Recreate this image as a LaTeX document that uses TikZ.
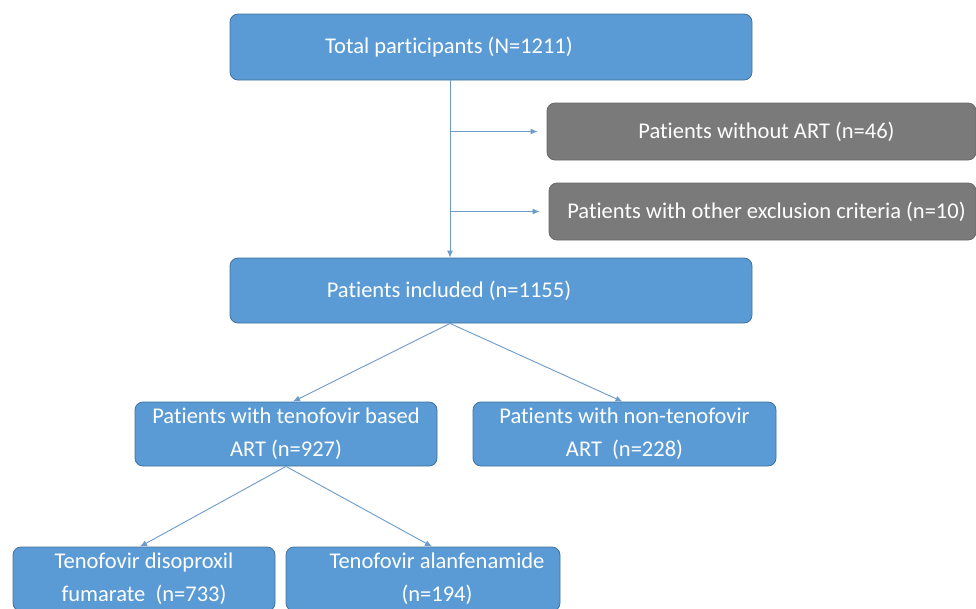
\documentclass[tikz,border=0pt]{standalone}
\usepackage{fontspec}
\setmainfont{Carlito}[Ligatures=NoCommon]
\usepackage{xcolor}
\usepackage{tikz}
\usetikzlibrary{arrows.meta,positioning}

\definecolor{boxblue}{HTML}{5B9BD5}
\definecolor{edgeblue}{HTML}{41719C}
\definecolor{boxgrey}{HTML}{7A7A7A}
\definecolor{linkblue}{HTML}{6A9BCB}

\begin{document}
\begin{tikzpicture}[x=1pt,y=-1pt,font=\fontsize{22.5}{33}\selectfont,
   incl/.style={draw=edgeblue,fill=boxblue,text=white,rounded corners=8pt,
               align=center,inner sep=0pt,line width=0.8pt},
   excl/.style={draw=boxgrey!85!black,fill=boxgrey,text=white,rounded corners=8pt,
               align=center,inner sep=0pt,line width=0.8pt},
   boxtext/.style={text=white,align=center,inner sep=0pt},
   link/.style={draw=linkblue,line width=0.9pt,-{Latex[length=7pt,width=6pt]}}]
  \useasboundingbox (0,0) rectangle (976,608);
  \node[incl,minimum width=522pt,minimum height=66pt] (total) at (491,47) {};
  \node[boxtext] (totaltxt) at ([xshift=-42pt]total.center) {Total participants (N=1211)};
  \node[excl,minimum width=429pt,minimum height=57pt] (noart) at (761.5,131.5) {};
  \node[boxtext] (noarttxt) at ([xshift=5pt]noart.center) {Patients without ART (n=46)};
  \node[excl,minimum width=427pt,minimum height=57pt] (other) at (762.5,211.5) {};
  \node[boxtext] (othertxt) at ([xshift=4pt]other.center) {Patients with other exclusion criteria (n=10)};
  \node[incl,minimum width=522pt,minimum height=65pt] (incl) at (491,290.5) {};
  \node[boxtext] (incltxt) at ([xshift=-42pt]incl.center) {Patients included (n=1155)};
  \node[incl,minimum width=302pt,minimum height=64pt] (tbased) at (286,434) {Patients with tenofovir based\\ART (n=927)};
  \node[incl,minimum width=303pt,minimum height=64pt] (ntbased) at (624.5,434) {Patients with non-tenofovir\\ART\ \ (n=228)};
  \node[incl,minimum width=262pt,minimum height=64pt] (tdf) at (144,579) {Tenofovir disoproxil\\fumarate\ \ (n=733)};
  \node[incl,minimum width=274pt,minimum height=64pt] (taf) at (423,579) {};
  \node[boxtext] (taftxt) at ([xshift=14pt]taf.center) {Tenofovir alanfenamide\\(n=194)};
  \coordinate (trunk) at (450,0);
  \draw[link] (total.south -| trunk) -- (incl.north -| trunk);
  \draw[link,shorten >=9pt] (noart.west -| trunk) -- (noart.west);
  \draw[link,shorten >=9pt] (other.west -| trunk) -- (other.west);
  \draw[link] (incl.south -| trunk) -- ([xshift=7pt]tbased.north);
  \draw[link] (incl.south -| trunk) -- ([xshift=-2pt]ntbased.north);
  \draw[link] (tbased.south) -- ([xshift=-4pt]tdf.north);
  \draw[link] (tbased.south) -- ([xshift=9pt]taf.north);
\end{tikzpicture}
\end{document}
